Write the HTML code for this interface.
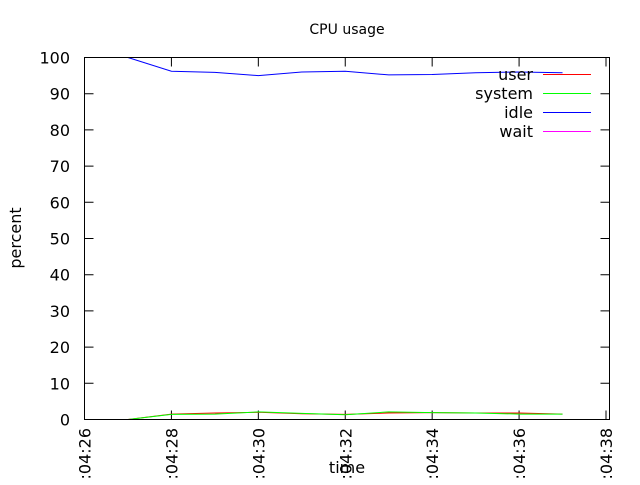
<!DOCTYPE html>
<html><head><meta charset="utf-8"><style>
body{margin:0;background:#fff;}
svg text{font-family:"DejaVu Sans","Liberation Sans",sans-serif;font-size:16px;fill:#000;}
</style></head><body>
<svg id="chart" width="640" height="480" xmlns="http://www.w3.org/2000/svg">
<text x="347" y="34" text-anchor="middle" style="font-size:14px">CPU usage</text>
<text transform="translate(21,238) rotate(-90)" text-anchor="middle">percent</text>
<text x="347" y="473" text-anchor="middle">time</text>
<g id="axes"></g>
<g id="series"></g>
<g id="legend"></g>
<rect x="84.5" y="57.5" width="525" height="362" fill="none" stroke="#000" stroke-width="1"/>
</svg>
<script>
const yTicks=[0,10,20,30,40,50,60,70,80,90,100];
const xTickMinutes=[0,2,4,6,8,10,12];
const xTickLabels=[":04:26",":04:28",":04:30",":04:32",":04:34",":04:36",":04:38"];
const times=[1,2,3,4,5,6,7,8,9,10,11];
const userVals=[0,1.5,1.8,2.0,1.6,1.4,1.8,1.9,1.8,1.8,1.5];
const systemVals=[0,1.4,1.5,2.1,1.7,1.3,2.1,1.9,1.8,1.5,1.5];
const idleVals=[100,96.2,95.9,95.0,96.0,96.2,95.2,95.3,95.8,96.0,95.8];
const waitVals=[0,0,0,0,0,0,0,0,0,0,0];
const seriesNames=["user","system","idle","wait"];
const NS="http://www.w3.org/2000/svg";
const X=m=>84.5+m*(606-84.5)/12;
const Y=v=>419.5-v*3.62;
const axes=document.getElementById('axes'),ser=document.getElementById('series'),leg=document.getElementById('legend');
function mk(t,a,p){const e=document.createElementNS(NS,t);for(const k in a)e.setAttribute(k,a[k]);p.appendChild(e);return e;}
yTicks.forEach(v=>{
 const y=Y(v);
 const l=mk('path',{d:`M84.5 ${y}h9M609.5 ${y}h-9`,stroke:'#000'},axes);
 
 
 const t=mk('text',{x:70,y:y+6,'text-anchor':'end'},axes);t.textContent=v;
 
 
});
xTickMinutes.forEach((m,i)=>{
 const x=X(m);
 const l=mk('path',{d:`M${x} 419.5v-9M${x} 57.5v9`,stroke:'#000'},axes);
 
 
 const t=mk('text',{transform:`translate(${x+6},428) rotate(-90)`,'text-anchor':'end'},axes);t.textContent=xTickLabels[i];
 
 
});
const data=[userVals,systemVals,idleVals,waitVals],colors=["#ff0000","#00ff00","#0000ff","#ff00ff"];
data.forEach((vals,s)=>{
 const d=vals.map((v,i)=>(i?'L':'M')+X(times[i])+' '+Y(v)).join(' ');
 const p=mk('path',{d,fill:'none',stroke:colors[s],'stroke-width':1},ser);
 
 
 const ly=74+s*19;
 const t=mk('text',{x:533,y:ly+6,'text-anchor':'end'},leg);t.textContent=seriesNames[s];
 
 
 const ll=mk('path',{d:`M543 ${ly+0.5}H591`,stroke:colors[s]},leg);
 
 
});
</script>
</body></html>
